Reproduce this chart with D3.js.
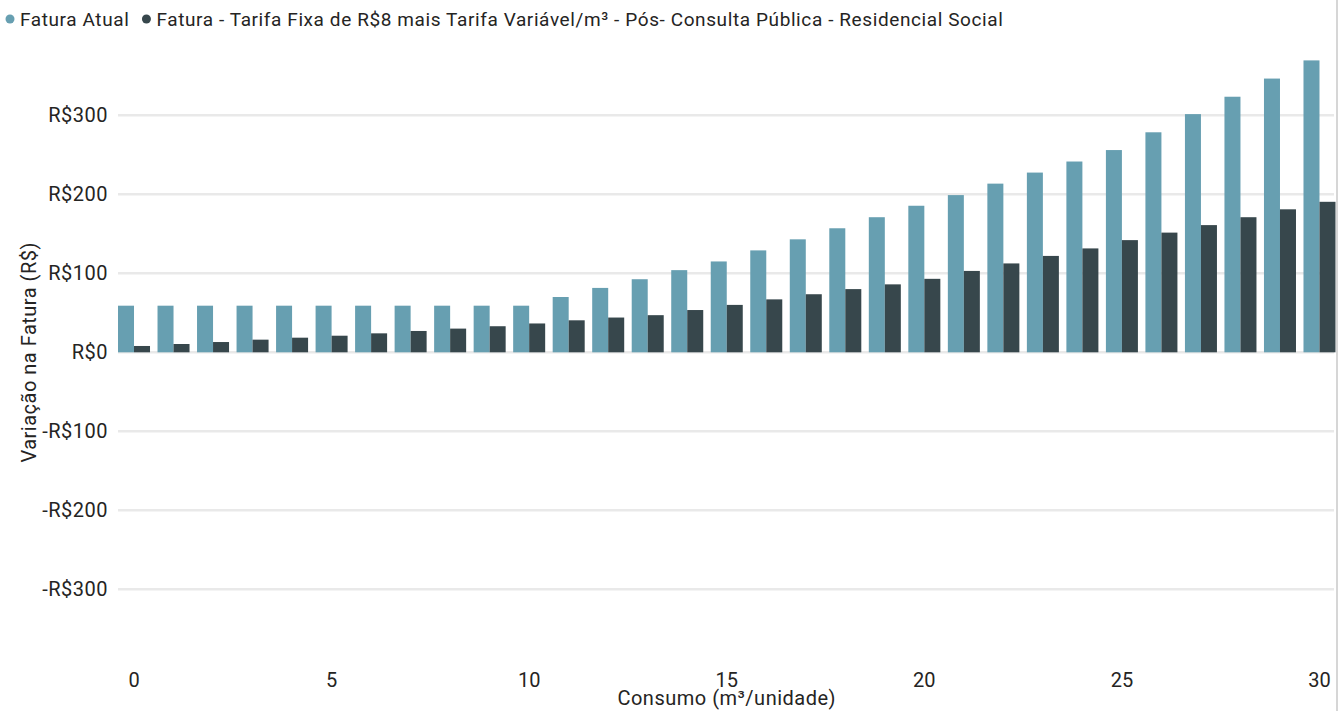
<!DOCTYPE html>
<html>
<head>
<meta charset="utf-8">
<script src="https://cdn.jsdelivr.net/npm/d3@7"></script>
<style>
  html, body { margin: 0; padding: 0; background: #ffffff; }
  svg { display: block; font-family: Roboto, "DejaVu Sans", sans-serif; }
</style>
</head>
<body>
<svg id="chart" width="1341" height="711"></svg>
<script>
// Consumo em m³ por unidade (0 a 30)
const consumo = d3.range(0, 31);

// Fatura atual (R$)
const faturaAtual = [
  59, 59, 59, 59, 59, 59, 59, 59, 59, 59, 59,
  70, 81.5, 92.5, 104, 115, 129, 143, 157, 171, 185.5,
  199, 213.5, 227.5, 241.5, 256, 278.5, 301.5, 323.5, 346.5, 369.5
];

// Fatura com tarifa fixa de R$8 + tarifa variável por m³ (R$)
const faturaNova = [
  8, 10.5, 13, 16, 18.5, 21, 24, 27, 30, 33, 36.5,
  40.5, 44, 47, 53.5, 60, 67, 73.5, 80, 86, 93,
  103, 112.5, 122, 131.5, 142, 151.5, 161, 171, 181, 190.5
];

const yTicks = [-300, -200, -100, 0, 100, 200, 300];
const xTickLabels = [0, 5, 10, 15, 20, 25, 30];

const seriesNames = [
  "Fatura Atual",
  "Fatura - Tarifa Fixa de R$8 mais Tarifa Variável/m³ - Pós- Consulta Pública - Residencial Social"
];
const seriesColors = ["#679fb1", "#37474c"];

const svg = d3.select("#chart");
const W = 1341, H = 711;
const textColor = "#252423";

const x0 = d3.scaleBand()
  .domain(consumo)
  .range([114.25, 1339.25])
  .paddingInner(0.19)
  .paddingOuter(0.095);

const x1 = d3.scaleBand()
  .domain([0, 1])
  .range([0, x0.bandwidth()]);

const y = d3.scaleLinear()
  .domain([-400, 400])
  .range([668.3, 36.3]);

const fmt = v => (v < 0 ? "-" : "") + "R$" + Math.abs(v);

// Gridlines
svg.append("g")
  .selectAll("line")
  .data(yTicks)
  .join("line")
  .attr("x1", 118)
  .attr("x2", 1334)
  .attr("y1", d => y(d))
  .attr("y2", d => y(d))
  .attr("stroke", "#e9e9e9")
  .attr("stroke-width", 2.5);

// Y axis labels
const yAxis = d3.axisLeft(y).tickValues(yTicks).tickFormat(fmt).tickSize(0).tickPadding(0);
svg.append("g")
  .attr("transform", "translate(108,0)")
  .call(yAxis)
  .call(g => g.select(".domain").remove())
  .selectAll("text")
  .attr("font-family", "Roboto, sans-serif")
  .attr("font-size", 20)
  .attr("letter-spacing", "0.5px")
  .attr("fill", textColor);

// Bars
const data = consumo.map((c, i) => ({ c, vals: [faturaAtual[i], faturaNova[i]] }));
const groups = svg.append("g")
  .selectAll("g")
  .data(data)
  .join("g")
  .attr("transform", d => `translate(${x0(d.c)},0)`);

groups.selectAll("rect")
  .data(d => d.vals.map((v, k) => ({ v, k })))
  .join("rect")
  .attr("x", d => x1(d.k))
  .attr("width", x1.bandwidth())
  .attr("y", d => y(Math.max(0, d.v)))
  .attr("height", d => Math.abs(y(d.v) - y(0)))
  .attr("fill", d => seriesColors[d.k]);

// X axis labels (every 5 m³)
const xAxis = d3.axisBottom(x0)
  .tickValues(xTickLabels)
  .tickSize(0)
  .tickPadding(0);
svg.append("g")
  .attr("transform", "translate(0,672.5)")
  .call(xAxis)
  .call(g => g.select(".domain").remove())
  .selectAll("text")
  .attr("font-family", "Roboto, sans-serif")
  .attr("font-size", 20)
  .attr("fill", textColor);

// Axis titles
svg.append("text")
  .attr("x", (114.25 + 1339.25) / 2)
  .attr("y", 705)
  .attr("text-anchor", "middle")
  .attr("font-size", 20)
  .attr("letter-spacing", "0.5px")
  .attr("fill", textColor)
  .text("Consumo (m³/unidade)");

svg.append("text")
  .attr("transform", `translate(36,${y(0)}) rotate(-90)`)
  .attr("text-anchor", "middle")
  .attr("font-size", 20)
  .attr("letter-spacing", "0.5px")
  .attr("fill", textColor)
  .text("Variação na Fatura (R$)");

// Legend
const legend = svg.append("g");
let lx = 10;
seriesNames.forEach((name, k) => {
  legend.append("circle")
    .attr("cx", lx)
    .attr("cy", 19)
    .attr("r", 4.5)
    .attr("fill", seriesColors[k]);
  const t = legend.append("text")
    .attr("x", lx + 10)
    .attr("y", 26)
    .attr("font-size", 19)
    .attr("letter-spacing", "0.6px")
    .attr("fill", textColor)
    .text(name);
  lx += 10 + t.node().getComputedTextLength() + 17;
});

// Right frame edge
svg.append("line")
  .attr("x1", 1337).attr("x2", 1337)
  .attr("y1", 0).attr("y2", H)
  .attr("stroke", "#c8c8c8")
  .attr("stroke-width", 1.5);
</script>
</body>
</html>
